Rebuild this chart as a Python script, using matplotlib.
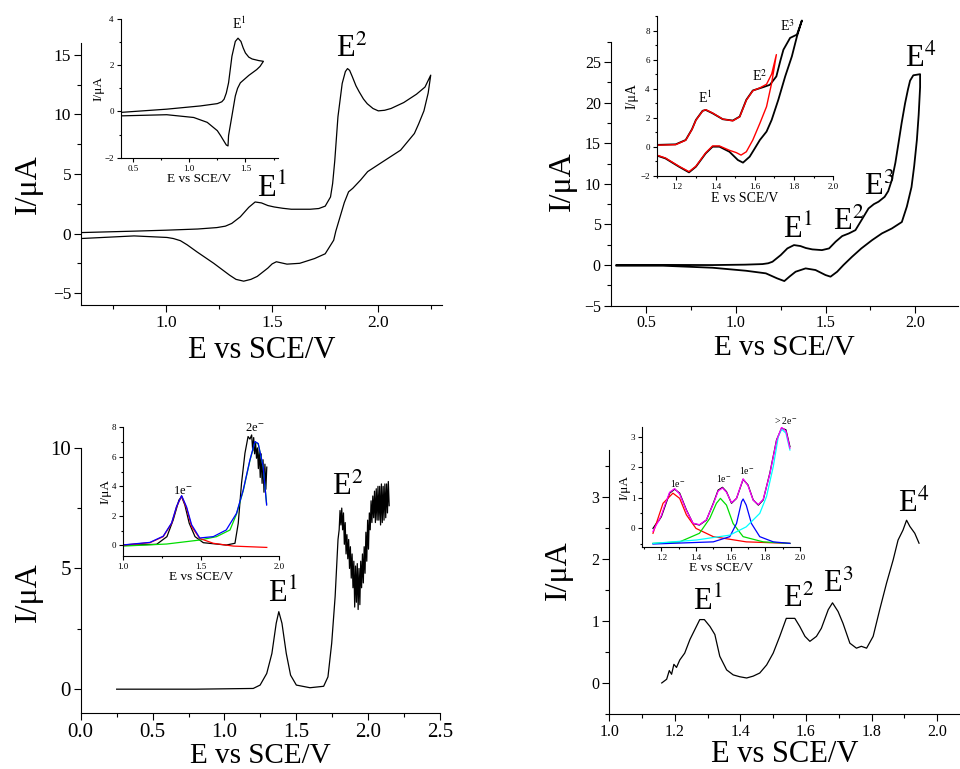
import matplotlib
matplotlib.use("Agg")
import matplotlib.pyplot as plt
from matplotlib.ticker import MultipleLocator

plt.rcParams["font.family"] = ["Liberation Serif", "DejaVu Serif"]
plt.rcParams["mathtext.fontset"] = "stix"

# ---------------- datos ----------------
# Panel a: CV completo
a_E = [0.60, 0.85, 1.00, 1.15, 1.24, 1.28, 1.31, 1.35, 1.39, 1.42, 1.45, 1.48, 1.51, 1.55, 1.59,
       1.68, 1.72, 1.75, 1.775, 1.785, 1.795, 1.81, 1.83, 1.845, 1.855, 1.865, 1.877, 1.895,
       1.91, 1.93, 1.948, 1.975, 2.00, 2.03, 2.06, 2.12, 2.18, 2.22, 2.247,
       2.235, 2.215, 2.19, 2.17, 2.105, 2.01, 1.95, 1.917, 1.88, 1.86, 1.84, 1.82, 1.80,
       1.79, 1.75, 1.70, 1.63, 1.57, 1.54, 1.52, 1.50, 1.48, 1.43, 1.40, 1.366, 1.33, 1.30,
       1.225, 1.146, 1.10, 1.068, 1.035, 1.005, 0.85, 0.60]
a_I = [0.08, 0.2, 0.28, 0.38, 0.5, 0.62, 0.85, 1.4, 2.2, 2.65, 2.57, 2.35, 2.23, 2.12, 2.04,
       2.04, 2.1, 2.3, 3.07, 4.2, 6.1, 9.8, 12.6, 13.6, 13.85, 13.7, 13.2, 12.4,
       11.9, 11.3, 10.9, 10.5, 10.3, 10.35, 10.5, 11.0, 11.7, 12.3, 13.3,
       11.8, 10.3, 9.2, 8.4, 7.0, 5.9, 5.2, 4.5, 3.8, 3.5, 2.6, 1.4, 0.2,
       -0.56, -1.7, -2.1, -2.5, -2.57, -2.45, -2.37, -2.55, -2.9, -3.6, -3.85, -4.0, -3.85, -3.5,
       -2.5, -1.54, -0.95, -0.6, -0.42, -0.33, -0.2, -0.42]
# inset a
ia_E = [0.39, 0.80, 1.10, 1.25, 1.29, 1.31, 1.33, 1.35, 1.38, 1.41, 1.434, 1.46, 1.48, 1.50,
        1.53, 1.56, 1.62, 1.66,
        1.63, 1.60, 1.53, 1.455, 1.43, 1.41, 1.38, 1.35, 1.345, 1.33, 1.306, 1.28, 1.25,
        1.16, 1.04, 0.80, 0.39]
ia_I = [-0.04, 0.1, 0.24, 0.34, 0.42, 0.53, 0.8, 1.24, 2.39, 3.03, 3.17, 3.03, 2.75, 2.53,
        2.35, 2.27, 2.2, 2.17,
        1.95, 1.81, 1.56, 1.24, 1.0, 0.67, -0.19, -1.04, -1.49, -1.45, -1.26, -1.05, -0.83,
        -0.47, -0.26, -0.14, -0.19]

# Panel b
b_E = [0.333, 0.60, 0.87, 1.05, 1.148, 1.18, 1.204, 1.25, 1.287, 1.324, 1.36, 1.39, 1.426, 1.48,
       1.52, 1.556, 1.593, 1.63, 1.667, 1.70, 1.74, 1.77, 1.796, 1.83, 1.85, 1.87, 1.89,
       1.907, 1.925, 1.944, 1.96, 1.972, 1.99, 2.028,
       2.028, 2.02, 2.01, 1.995, 1.98, 1.954, 1.926, 1.87, 1.815, 1.76, 1.70, 1.648, 1.60,
       1.565, 1.528, 1.50, 1.444, 1.389, 1.333, 1.30, 1.27, 1.23, 1.167, 1.056, 0.87, 0.593,
       0.333]
b_I = [0.0, 0.02, 0.0, 0.05, 0.12, 0.22, 0.41, 1.23, 2.05, 2.46, 2.34, 2.1, 1.93, 1.84,
       2.05, 2.87, 3.57, 3.89, 4.3, 5.5, 6.97, 7.5, 7.8, 8.4, 9.1, 10.45, 12.6,
       14.96, 17.5, 19.9, 21.6, 22.7, 23.36, 23.5,
       21.9, 18.5, 15.4, 12.2, 9.6, 7.2, 5.3, 4.5, 3.9, 3.07, 2.05, 1.02, 0.0,
       -0.82, -1.43, -1.23, -0.61, -0.41, -0.82, -1.4, -1.97, -1.64, -1.02, -0.7, -0.33, -0.08,
       -0.08]
# inset b (negro y rojo)
ib_E = [1.094, 1.197, 1.248, 1.28, 1.30, 1.334, 1.35, 1.385, 1.437, 1.488, 1.523, 1.557, 1.59,
        1.643, 1.677, 1.71, 1.73, 1.746, 1.78, 1.815, 1.84,
        1.815, 1.789, 1.755, 1.72, 1.686, 1.66, 1.626, 1.60, 1.574, 1.54, 1.514, 1.471, 1.42,
        1.385, 1.35, 1.30, 1.265, 1.214, 1.145, 1.094]
ib_I = [0.12, 0.16, 0.46, 1.2, 1.84, 2.47, 2.53, 2.30, 1.89, 1.80, 2.07, 3.23, 3.87,
        4.10, 4.26, 4.84, 5.9, 6.68, 7.49, 7.72, 8.69,
        7.6, 6.22, 4.84, 3.23, 1.84, 1.04, 0.46, -0.12, -0.69, -1.1, -0.92, -0.35, 0.0,
        0.0, -0.46, -1.38, -1.77, -1.38, -0.81, -0.58]
ib_red_E = [1.094, 1.197, 1.248, 1.28, 1.30, 1.334, 1.35, 1.385, 1.437, 1.488, 1.523, 1.557,
            1.59, 1.626, 1.66, 1.686, 1.71,
            1.686, 1.66, 1.626, 1.59, 1.557, 1.53, 1.506, 1.471, 1.42, 1.385, 1.35, 1.30,
            1.265, 1.214, 1.145, 1.094]
ib_red_I = [0.1, 0.14, 0.44, 1.18, 1.82, 2.45, 2.55, 2.32, 1.9, 1.78, 2.05, 3.2,
            3.85, 4.05, 4.3, 5.0, 6.34,
            4.38, 2.76, 1.61, 0.46, -0.35, -0.58, -0.41, -0.25, 0.05, 0.05, -0.42, -1.35,
            -1.72, -1.35, -0.78, -0.55]

# Panel c (diferencial)
c_E = [0.25, 0.80, 1.20, 1.248, 1.294, 1.33, 1.36, 1.378, 1.40, 1.43, 1.46, 1.50, 1.595, 1.69,
       1.72, 1.746, 1.77, 1.79, 1.798, 1.804, 1.810, 1.816, 1.822, 1.828, 1.834, 1.840, 1.846,
       1.852, 1.858, 1.864, 1.870, 1.876, 1.882, 1.888, 1.894, 1.900, 1.906, 1.912, 1.918,
       1.924, 1.930, 1.936, 1.942, 1.948, 1.954, 1.960, 1.966, 1.972, 1.978, 1.984, 1.990,
       1.996, 2.002, 2.008, 2.014, 2.020, 2.026, 2.032, 2.038, 2.044, 2.050, 2.056, 2.062,
       2.068, 2.074, 2.080, 2.086, 2.092, 2.098, 2.104, 2.110, 2.116, 2.122, 2.128, 2.134,
       2.140, 2.146]
c_I = [0.0, 0.0, 0.03, 0.17, 0.65, 1.48, 2.73, 3.21, 2.73, 1.48, 0.58, 0.17, 0.06, 0.12,
       0.51, 1.9, 3.84, 6.2, 6.6, 7.4, 6.8, 7.5, 6.6, 7.3, 6.0, 6.9, 5.6,
       6.4, 5.4, 6.2, 5.0, 5.9, 4.6, 5.6, 4.2, 5.3, 3.4, 5.1, 3.6,
       5.2, 3.3, 5.0, 3.5, 5.3, 4.2, 5.6, 4.4, 5.9, 4.8, 6.5, 5.3,
       7.0, 5.8, 7.3, 6.6, 7.8, 6.9, 8.0, 7.1, 8.2, 6.9, 8.3, 7.0,
       8.4, 7.0, 8.4, 6.8, 8.5, 6.9, 8.4, 7.0, 8.5, 7.1, 8.5, 7.3,
       8.6, 7.6]
# inset c
ic_E = [1.0, 1.214, 1.28, 1.32, 1.357, 1.374, 1.395, 1.423, 1.46, 1.513, 1.66, 1.716, 1.737,
        1.758, 1.78, 1.80, 1.812, 1.823, 1.830, 1.836, 1.842, 1.848, 1.854, 1.860, 1.866,
        1.872, 1.878, 1.884, 1.890, 1.896, 1.902, 1.908, 1.914, 1.920]
ic_I = [0.0, 0.07, 0.59, 1.72, 3.07, 3.3, 2.73, 1.49, 0.59, 0.18, 0.02, 0.14, 1.49,
        4.2, 6.24, 7.37, 7.2, 7.48, 6.4, 7.3, 6.2, 7.0, 5.9, 6.6, 5.2,
        6.5, 4.6, 6.2, 4.2, 5.8, 3.6, 5.5, 3.8, 5.3]
ic_red_E = [1.0, 1.171, 1.256, 1.31, 1.342, 1.374, 1.406, 1.438, 1.49, 1.577, 1.705, 1.92]
ic_red_I = [0.02, 0.18, 0.59, 1.49, 2.62, 3.34, 2.51, 1.27, 0.47, 0.14, -0.05, -0.14]
ic_green_E = [1.0, 1.278, 1.49, 1.598, 1.684, 1.726, 1.769, 1.812, 1.844, 1.865, 1.897, 1.919]
ic_green_I = [-0.05, 0.09, 0.36, 0.59, 1.04, 2.12, 3.7, 5.75, 7.0, 6.88, 5.3, 2.8]
ic_blue_E = [1.0, 1.171, 1.256, 1.31, 1.342, 1.374, 1.406, 1.438, 1.49, 1.577, 1.66, 1.726,
             1.769, 1.812, 1.844, 1.865, 1.897, 1.919]
ic_blue_I = [0.03, 0.2, 0.62, 1.52, 2.65, 3.37, 2.6, 1.4, 0.5, 0.59, 1.04, 2.17,
             3.75, 5.79, 7.03, 6.9, 5.33, 2.73]

# Panel d
d_E = [1.16, 1.175, 1.183, 1.19, 1.197, 1.205, 1.215, 1.23, 1.246, 1.261, 1.276, 1.29, 1.307,
       1.322, 1.337, 1.358, 1.378, 1.398, 1.419, 1.439, 1.459, 1.48, 1.50, 1.52, 1.54, 1.566,
       1.581, 1.597, 1.612, 1.632, 1.647, 1.668, 1.681, 1.698, 1.713, 1.734, 1.754, 1.769,
       1.785, 1.805, 1.825, 1.846, 1.866, 1.881, 1.896, 1.907, 1.917, 1.932, 1.945]
d_I = [0.0, 0.06, 0.2, 0.14, 0.3, 0.25, 0.37, 0.48, 0.7, 0.86, 1.02, 1.02, 0.91,
       0.78, 0.43, 0.21, 0.13, 0.1, 0.08, 0.11, 0.16, 0.29, 0.48, 0.75, 1.04, 1.04,
       0.91, 0.75, 0.67, 0.75, 0.88, 1.18, 1.29, 1.15, 0.96, 0.64, 0.56, 0.59,
       0.56, 0.75, 1.18, 1.61, 1.98, 2.30, 2.46, 2.62, 2.52, 2.41, 2.25]
# inset d
id_E = [1.152, 1.17, 1.185, 1.20, 1.22, 1.248, 1.277, 1.306, 1.345, 1.383, 1.42, 1.46, 1.50,
        1.528, 1.553, 1.576, 1.605, 1.634, 1.672, 1.70, 1.73, 1.76, 1.788, 1.826, 1.865,
        1.894, 1.919, 1.942]
id_I = [0.0, 0.15, 0.25, 0.38, 0.7, 1.15, 1.28, 1.15, 0.6, 0.16, 0.11, 0.27, 0.82,
        1.25, 1.34, 1.2, 0.82, 0.98, 1.6, 1.42, 0.93, 0.76, 0.93, 1.8, 2.89,
        3.27, 3.22, 2.67]
id_fit_I = [-0.1, 0.1, 0.25, 0.42, 0.75, 1.18, 1.3, 1.12, 0.58, 0.17, 0.12, 0.28, 0.8,
            1.22, 1.32, 1.18, 0.84, 0.98, 1.62, 1.4, 0.92, 0.78, 0.95, 1.78, 2.87,
            3.3, 3.18, 2.62]
id_red_E = [1.152, 1.21, 1.267, 1.306, 1.345, 1.40, 1.50, 1.69, 1.942]
id_red_I = [-0.16, 0.82, 1.15, 0.98, 0.44, 0.0, -0.27, -0.44, -0.49]
id_green_E = [1.152, 1.306, 1.42, 1.48, 1.518, 1.541, 1.576, 1.614, 1.672, 1.788, 1.942]
id_green_I = [-0.49, -0.44, -0.16, 0.33, 0.82, 0.98, 0.76, 0.16, -0.27, -0.44, -0.49]
id_blue_E = [1.152, 1.50, 1.595, 1.634, 1.663, 1.672, 1.69, 1.72, 1.768, 1.846, 1.942]
id_blue_I = [-0.51, -0.44, -0.27, 0.16, 0.87, 0.96, 0.76, 0.16, -0.27, -0.44, -0.49]
id_cyan_E = [1.152, 1.402, 1.595, 1.69, 1.768, 1.807, 1.846, 1.875, 1.894, 1.919, 1.942]
id_cyan_I = [-0.49, -0.38, -0.22, 0.05, 0.49, 1.04, 2.02, 3.0, 3.24, 3.11, 2.56]

XLAB = "E vs SCE/V"
YLAB = "I/\u03bcA"


def estilo(ax, xmaj, xmin, ymaj, ymin, fs, inset=False):
    ax.spines["top"].set_visible(False)
    ax.spines["right"].set_visible(False)
    ax.xaxis.set_major_locator(MultipleLocator(xmaj))
    ax.xaxis.set_minor_locator(MultipleLocator(xmin))
    ax.yaxis.set_major_locator(MultipleLocator(ymaj))
    ax.yaxis.set_minor_locator(MultipleLocator(ymin))
    L = 3 if inset else 5
    ax.tick_params(which="major", direction="out", length=L, width=0.8, labelsize=fs, pad=2)
    ax.tick_params(which="minor", direction="out", length=L * 0.6, width=0.8)
    ax.patch.set_alpha(0)


fig = plt.figure(figsize=(9.6, 7.69), dpi=100)

# ---------- a ----------
ax = fig.add_axes([0.0844, 0.6034, 0.376, 0.3407])
ax.plot(a_E, a_I, color="black", lw=0.9)
ax.set_xlim(0.6, 2.3)
ax.set_ylim(-6, 16)
estilo(ax, 0.5, 0.25, 5, 2.5, 12.5)
ax.set_xlabel(XLAB, fontsize=22)
ax.set_ylabel(YLAB, fontsize=23)
ax.xaxis.set_label_coords(0.5, -0.12)
ax.yaxis.set_label_coords(-0.105, 0.46)
ax.text(1.43, 3.1, "E$^1$", fontsize=22)
ax.text(1.80, 14.8, "E$^2$", fontsize=22)

ax = fig.add_axes([0.1257, 0.7949, 0.1639, 0.1804])
ax.plot(ia_E, ia_I, color="black", lw=0.9)
ax.set_xlim(0.39, 1.79)
ax.set_ylim(-2, 4)
estilo(ax, 0.5, 0.25, 2, 1, 6.5, inset=True)
ax.set_xlabel(XLAB, fontsize=9.5, labelpad=0)
ax.set_ylabel(YLAB, fontsize=9.5, labelpad=0)
ax.text(1.38, 3.55, "E$^1$", fontsize=10)

# ---------- b ----------
ax = fig.add_axes([0.636, 0.6025, 0.362, 0.3433])
ax.plot(b_E, b_I, color="black", lw=1.3)
ax.set_xlim(0.3, 2.24)
ax.set_ylim(-5, 27.5)
estilo(ax, 0.5, 0.25, 5, 2.5, 11.5)
ax.set_xlabel(XLAB, fontsize=21)
ax.set_ylabel(YLAB, fontsize=23)
ax.xaxis.set_label_coords(0.5, -0.11)
ax.yaxis.set_label_coords(-0.097, 0.47)
ax.text(1.26, 3.3, "E$^1$", fontsize=22)
ax.text(1.54, 4.3, "E$^2$", fontsize=22)
ax.text(1.715, 8.6, "E$^3$", fontsize=22)
ax.text(1.945, 24.4, "E$^4$", fontsize=22)

ax = fig.add_axes([0.684, 0.7715, 0.184, 0.2077])
ax.plot(ib_E, ib_I, color="black", lw=1.3)
ax.plot(ib_red_E, ib_red_I, color="red", lw=1.0)
ax.set_xlim(1.1, 2.0)
ax.set_ylim(-2, 9)
estilo(ax, 0.2, 0.1, 2, 1, 6.5, inset=True)
ax.set_xlabel(XLAB, fontsize=10, labelpad=1)
ax.set_ylabel(YLAB, fontsize=10, labelpad=1)
ax.text(1.31, 3.0, "E$^1$", fontsize=10)
ax.text(1.585, 4.5, "E$^2$", fontsize=10)
ax.text(1.73, 7.95, "E$^3$", fontsize=10)

# ---------- c ----------
ax = fig.add_axes([0.0841, 0.0724, 0.3743, 0.3454])
ax.plot(c_E, c_I, color="black", lw=0.9)
ax.set_xlim(0, 2.5)
ax.set_ylim(-1, 10)
estilo(ax, 0.5, 0.25, 5, 2.5, 15)
ax.set_xlabel(XLAB, fontsize=21)
ax.set_ylabel(YLAB, fontsize=23)
ax.xaxis.set_label_coords(0.5, -0.112)
ax.yaxis.set_label_coords(-0.105, 0.457)
ax.text(1.30, 3.6, "E$^1$", fontsize=22)
ax.text(1.745, 8.05, "E$^2$", fontsize=22)

ax = fig.add_axes([0.1284, 0.2774, 0.1625, 0.167])
ax.plot(ic_E, ic_I, color="black", lw=0.9)
ax.plot(ic_green_E, ic_green_I, color="#00dd00", lw=0.9)
ax.plot(ic_red_E, ic_red_I, color="red", lw=0.9)
ax.plot(ic_blue_E, ic_blue_I, color="blue", lw=0.9)
ax.set_xlim(1.0, 2.0)
ax.set_ylim(-0.7, 8)
estilo(ax, 0.5, 0.25, 2, 1, 6.5, inset=True)
ax.set_xlabel(XLAB, fontsize=9.5, labelpad=0)
ax.set_ylabel(YLAB, fontsize=9.5, labelpad=0)
ax.text(1.32, 3.5, "1e$^{-}$", fontsize=9)
ax.text(1.78, 7.75, "2e$^{-}$", fontsize=9)

# ---------- d ----------
ax = fig.add_axes([0.6347, 0.0715, 0.3653, 0.3433])
ax.plot(d_E, d_I, color="black", lw=0.9)
ax.set_xlim(1.0, 2.07)
ax.set_ylim(-0.5, 3.75)
estilo(ax, 0.2, 0.1, 1, 0.5, 11.5)
ax.set_xlabel(XLAB, fontsize=22)
ax.set_ylabel(YLAB, fontsize=23)
ax.xaxis.set_label_coords(0.5, -0.1)
ax.yaxis.set_label_coords(-0.105, 0.545)
ax.text(1.255, 1.18, "E$^1$", fontsize=22)
ax.text(1.53, 1.23, "E$^2$", fontsize=22)
ax.text(1.652, 1.47, "E$^3$", fontsize=22)
ax.text(1.88, 2.76, "E$^4$", fontsize=22)

ax = fig.add_axes([0.669, 0.289, 0.1643, 0.1553])
ax.plot(id_E, id_I, color="black", lw=0.9)
ax.plot(id_red_E, id_red_I, color="red", lw=0.9)
ax.plot(id_green_E, id_green_I, color="#00dd00", lw=0.9)
ax.plot(id_blue_E, id_blue_I, color="blue", lw=0.9)
ax.plot(id_cyan_E, id_cyan_I, color="cyan", lw=0.9)
ax.plot(id_E, id_fit_I, color="magenta", lw=0.9)
ax.set_xlim(1.09, 2.0)
ax.set_ylim(-0.6, 3.3)
estilo(ax, 0.2, 0.1, 1, 0.5, 6.5, inset=True)
ax.set_xlabel(XLAB, fontsize=9.5, labelpad=0)
ax.set_ylabel(YLAB, fontsize=9.5, labelpad=0)
ax.text(1.25, 1.36, "1e$^{-}$", fontsize=7)
ax.text(1.515, 1.53, "1e$^{-}$", fontsize=7)
ax.text(1.65, 1.77, "1e$^{-}$", fontsize=7)
ax.text(1.85, 3.4, "> 2e$^{-}$", fontsize=7)

fig.savefig("out.png", dpi=100)
